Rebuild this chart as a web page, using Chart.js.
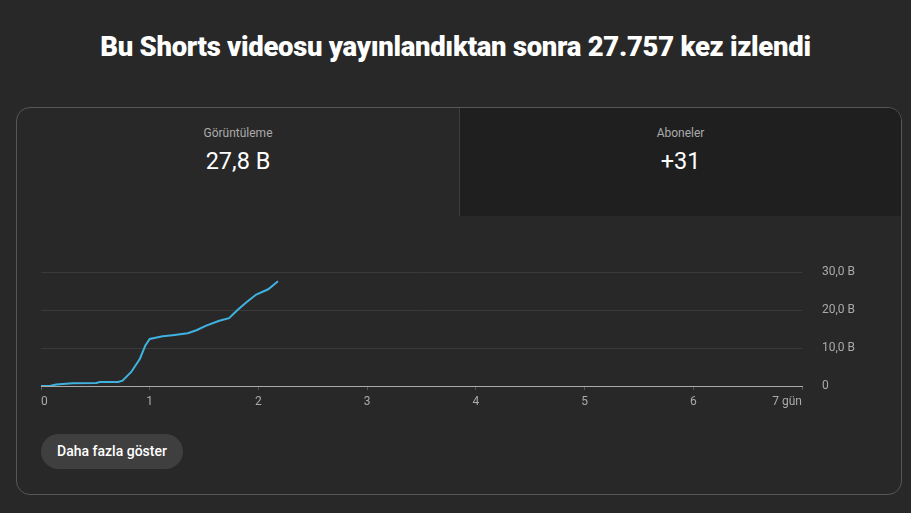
<!DOCTYPE html>
<html>
<head>
<meta charset="utf-8">
<script src="https://cdn.jsdelivr.net/npm/chart.js@4"></script>
<style>
  html, body { margin: 0; padding: 0; }
  body { width: 911px; height: 513px; background: #282828; font-family: Roboto, sans-serif; color: #fff; position: relative; overflow: hidden; }
  h1 { position: absolute; left: 0; top: 30px; width: 911px; margin: 0; text-align: center; font-size: 27.5px; font-weight: 900; letter-spacing: -0.3px; }
  .card { position: absolute; left: 16px; top: 107px; width: 884px; height: 386px; border: 1px solid #575757; border-radius: 14px; overflow: hidden; }
  .tab { position: absolute; top: 0; height: 108px; text-align: center; }
  .tab.left { left: 0; width: 442px; border-right: 1px solid #3c3c3c; }
  .tab.right { left: 443px; width: 441px; background: #1f1f1f; }
  .tab .lbl { margin-top: 18px; font-size: 12px; color: #aaa; }
  .tab .val { margin-top: 7px; font-size: 23.5px; color: #fff; }
  #wrap { position: absolute; left: 29px; top: 245px; width: 841px; height: 169px; }
  .btn { position: absolute; left: 41px; top: 434px; width: 142px; height: 35px; border-radius: 18px; background: #3f3f3f; color: #fff; font-size: 14px; font-weight: 500; line-height: 35px; text-align: center; }
</style>
</head>
<body>
<h1>Bu Shorts videosu yayınlandıktan sonra 27.757 kez izlendi</h1>
<div class="card">
  <div class="tab left"><div class="lbl">Görüntüleme</div><div class="val">27,8 B</div></div>
  <div class="tab right"><div class="lbl">Aboneler</div><div class="val">+31</div></div>
</div>
<div id="wrap"><canvas id="chart"></canvas></div>
<div class="btn">Daha fazla göster</div>
<script>
// days since publish, cumulative views in thousands (B = bin)
const days = [0, 0.08, 0.14, 0.29, 0.51, 0.54, 0.71, 0.75, 0.83, 0.91, 0.96, 1.0, 1.12, 1.21, 1.35, 1.43, 1.52, 1.64, 1.73, 1.81, 1.89, 1.98, 2.09, 2.18];
const views = [0, 0, 0.4, 0.7, 0.8, 1.05, 1.05, 1.4, 3.7, 7.2, 10.7, 12.4, 13.1, 13.4, 13.9, 14.7, 15.9, 17.2, 17.9, 20.1, 22.1, 24.1, 25.5, 27.6];
const yTicks = [0, 10, 20, 30];

const fmtB = (v) => v === 0 ? '0' : v.toFixed(1).replace('.', ',') + ' B';

new Chart(document.getElementById('chart'), {
  type: 'line',
  data: {
    datasets: [{
      data: days.map((d, i) => ({ x: d, y: views[i] })),
      borderColor: '#40b2e0', borderWidth: 2, pointRadius: 0, tension: 0, fill: false
    }]
  },
  options: {
    responsive: true, maintainAspectRatio: false, animation: false,
    layout: { padding: { top: 10, left: 12, right: 0, bottom: 0 } },
    plugins: { legend: { display: false }, tooltip: { enabled: false } },
    scales: {
      x: {
        type: 'linear', min: 0, max: 7,
        afterFit: (s) => { s.height = 28; },
        border: { color: '#aaaaaa', width: 1 },
        grid: { drawOnChartArea: false, drawTicks: true, tickLength: 4, color: '#555' },
        ticks: { stepSize: 1, align: 'inner', padding: 5, color: '#aaa', font: { family: 'Roboto', size: 12 },
          callback: (v) => v === 7 ? '7 gün' : String(v) }
      },
      y: {
        position: 'right', min: 0, max: 30,
        afterFit: (s) => { s.width = 68; },
        afterBuildTicks: (s) => { s.ticks = yTicks.map(v => ({ value: v })); },
        border: { display: false },
        grid: { drawTicks: false, color: (c) => c.tick && c.tick.value === 0 ? '#aaaaaa' : '#3a3a3a' },
        ticks: { padding: 20, color: '#aaa', font: { family: 'Roboto', size: 12 }, callback: (v) => fmtB(v) }
      }
    }
  }
});
</script>
</body>
</html>
